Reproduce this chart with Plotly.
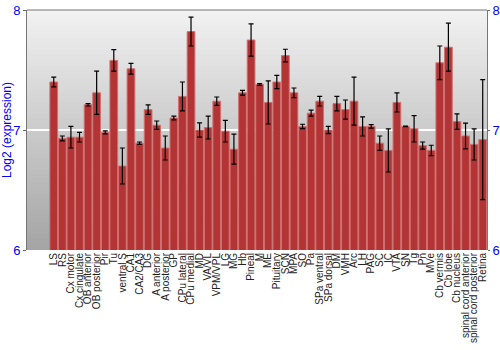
import plotly.graph_objects as go

categories = ["LS", "RS", "Cx motor", "Cx cingulate", "OB anterior", "OB posterior", "Pir", "Tu",
              "ventral S", "CA1", "CA2/CA3", "DG", "A anterior", "A posterior", "GP", "CPu lateral",
              "CPu medial", "MD", "VA/VL", "VPM/VPL", "LG", "MG", "Hb", "Pineal", "M", "ME",
              "Pituitary", "SCN", "MPA", "SO", "Pa", "SPa ventral", "SPa dorsal", "DM", "VMH", "Arc",
              "LH", "PAG", "SC", "IC", "VTA", "SN", "Tg", "Pn", "MVe", "Cb vermis", "Cb lobe",
              "Cb nucleus", "spinal cord anterior", "spinal cord posterior", "Retina"]

values = [7.40, 6.93, 6.94, 6.94, 7.21, 7.31, 6.98, 7.58,
          6.70, 7.51, 6.89, 7.17, 7.04, 6.85, 7.10, 7.28,
          7.82, 7.00, 7.02, 7.24, 6.99, 6.84, 7.31, 7.75, 7.38, 7.23,
          7.40, 7.62, 7.31, 7.03, 7.14, 7.24, 7.00, 7.22, 7.17, 7.24,
          7.03, 7.03, 6.89, 6.83, 7.23, 7.03, 7.01, 6.87, 6.83, 7.56, 7.69,
          7.07, 6.95, 6.88, 6.92]

errors = [0.04, 0.02, 0.09, 0.04, 0.01, 0.18, 0.012, 0.09,
          0.15, 0.045, 0.01, 0.04, 0.035, 0.10, 0.015, 0.12,
          0.12, 0.06, 0.095, 0.035, 0.09, 0.125, 0.02, 0.135, 0.007, 0.18,
          0.055, 0.053, 0.04, 0.018, 0.025, 0.04, 0.03, 0.06, 0.08, 0.20,
          0.08, 0.015, 0.06, 0.18, 0.08, 0.003, 0.11, 0.03, 0.043, 0.14, 0.20,
          0.065, 0.107, 0.13, 0.50]

y_ticks = [6, 7, 8]
y_range = [6, 8]

fig = go.Figure()

fig.add_trace(go.Bar(
    x=categories, y=values,
    marker=dict(color="#b23434", line=dict(color="#d27070", width=1)),
    error_y=dict(type="data", array=errors, color="#000000", thickness=1.2, width=2.5),
    hoverinfo="x+y",
))
fig.add_trace(go.Scatter(x=[categories[0]], y=[values[0]], yaxis="y2",
                         mode="markers", marker=dict(opacity=0), showlegend=False, hoverinfo="skip"))

# background gradient (decoration)
n = 60
shapes = []
for i in range(n):
    t = i / (n - 1)
    g = int(242 - (242 - 165) * t)
    shapes.append(dict(type="rect", xref="paper", yref="paper", x0=0, x1=1,
                       y0=1 - (i + 1) / n, y1=1 - i / n, fillcolor=f"rgb({g},{g},{g})",
                       line=dict(width=0), layer="below"))

fig.update_layout(
    width=500, height=350,
    margin=dict(l=27, r=13, t=10, b=100),
    paper_bgcolor="white",
    plot_bgcolor="rgba(0,0,0,0)",
    shapes=shapes,
    bargap=0.1,
    showlegend=False,
    font=dict(family="Liberation Sans, Arial, sans-serif"),
    xaxis=dict(tickmode="array", tickvals=categories, ticktext=categories,
               tickangle=-90, tickfont=dict(size=10, color="#222222"), showgrid=False,
               ticks="", showline=False, zeroline=False, automargin=False),
    yaxis=dict(range=y_range, tickvals=y_ticks, ticks="outside", ticklen=3, tickcolor="#666666",
               tickfont=dict(size=13, color="#0000ff"),
               title=dict(text="Log2 (expression)", font=dict(size=12, color="#0000ff"), standoff=4),
               showgrid=True, gridcolor="#ffffff", gridwidth=1.5, zeroline=False,
               showline=True, linecolor="#777777", mirror=False, automargin=False),
    yaxis2=dict(range=y_range, tickvals=y_ticks, overlaying="y", side="right", anchor="x",
                ticks="outside", ticklen=2, tickcolor="#666666",
                tickfont=dict(size=13, color="#0000ff"), showgrid=False, zeroline=False,
                showline=True, linecolor="#777777", automargin=False),
)
fig.add_shape(type="line", xref="paper", yref="paper", x0=0, x1=1, y0=1, y1=1,
              line=dict(color="#777777", width=1))

fig.write_html("out.html")
